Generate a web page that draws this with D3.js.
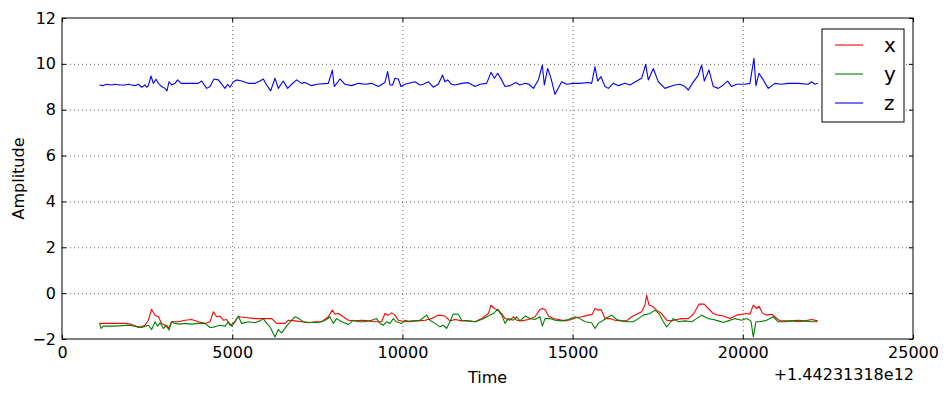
<!DOCTYPE html>
<html>
<head>
<meta charset="utf-8">
<script src="https://cdn.jsdelivr.net/npm/d3@7"></script>
<style>
  body { margin: 0; background: #fff; }
  svg text { font-family: 'DejaVu Sans', sans-serif; fill: #000; }
</style>
</head>
<body>
<svg id="chart" width="949" height="397"></svg>
<script>
// time offset (ms) relative to +1.44231318e12
const offsetLabel = '+1.44231318e12'
const xTicks = [0, 5000, 10000, 15000, 20000, 25000]
const yTicks = [-2, 0, 2, 4, 6, 8, 10, 12]
const seriesNames = ['x', 'y', 'z']
const seriesColors = ['#ff0000', '#008000', '#0000ff']

const zTime = [1100, 1200, 1300, 1460, 1557, 1700, 1851, 1949, 2047, 2145, 2243, 2341, 2439, 2490, 2537, 2615, 2683, 2762, 2830, 2928,
  3026, 3085, 3143, 3222, 3320, 3398, 3496, 3613, 3809, 4005, 4103, 4250, 4348, 4465, 4592, 4710, 4788, 4866, 4935, 5033,
  5131, 5278, 5474, 5670, 5816, 5914, 6012, 6130, 6257, 6355, 6502, 6629, 6746, 6893, 7040, 7138, 7334, 7481, 7823, 7940,
  7999, 8166, 8313, 8509, 8704, 8900, 9096, 9292, 9487, 9566, 9634, 9712, 9781, 9879, 9957, 10075, 10369, 10515, 10613, 10760,
  10907, 11054, 11181, 11250, 11328, 11445, 11546, 11742, 11938, 12133, 12280, 12476, 12603, 12701, 12799, 12917, 13014, 13161, 13328, 13455,
  13602, 13719, 13847, 13994, 14111, 14170, 14268, 14366, 14483, 14679, 14826, 15022, 15217, 15462, 15560, 15658, 15736, 15834, 15952, 16049,
  16196, 16343, 16539, 16686, 16882, 17028, 17146, 17224, 17371, 17518, 17714, 17861, 18008, 18155, 18301, 18399, 18517, 18693, 18791, 18869,
  19006, 19133, 19280, 19427, 19554, 19672, 19819, 20063, 20210, 20328, 20386, 20475, 20601, 20748, 20944, 21140, 21336, 21630, 21923, 22022,
  22120, 22200]
const zVal = [9.08, 9.05, 9.11, 9.08, 9.11, 9.08, 9.08, 9.11, 9.08, 9.05, 9.11, 8.98, 9.08, 8.98, 9.05, 9.47, 9.15, 9.33, 9.15, 9.01,
  8.93, 8.82, 9.22, 9.08, 9.15, 9.30, 9.15, 9.15, 9.15, 9.15, 9.25, 8.93, 9.01, 9.34, 9.30, 9.08, 8.93, 9.11, 8.98, 9.22,
  9.30, 9.25, 9.15, 9.15, 9.25, 9.34, 9.08, 8.82, 9.37, 8.93, 9.25, 8.93, 9.11, 9.30, 9.15, 9.19, 9.05, 9.11, 9.15, 9.73,
  9.01, 9.34, 9.11, 9.05, 9.15, 9.11, 9.15, 9.01, 9.19, 9.66, 9.08, 9.08, 9.37, 9.34, 9.01, 9.11, 9.22, 9.08, 9.11, 9.22,
  8.98, 9.11, 9.51, 9.22, 9.30, 9.11, 9.08, 9.15, 9.18, 9.01, 9.11, 9.15, 9.63, 9.37, 9.59, 9.30, 9.01, 9.05, 9.19, 9.08,
  9.15, 9.11, 8.93, 9.30, 9.95, 9.08, 9.80, 9.37, 8.67, 9.22, 9.11, 9.15, 9.15, 9.19, 9.15, 9.88, 9.25, 9.44, 9.01, 8.93,
  9.15, 9.05, 9.15, 9.08, 9.25, 9.37, 9.98, 9.30, 9.80, 9.22, 8.93, 9.01, 9.08, 9.11, 9.01, 8.86, 9.15, 9.51, 9.95, 9.25,
  9.73, 9.01, 8.93, 9.08, 9.25, 9.01, 9.11, 9.11, 9.15, 10.24, 9.05, 9.59, 9.30, 8.93, 9.15, 9.11, 9.15, 9.15, 9.11, 9.22,
  9.11, 9.15]

const xTime = [1100, 1460, 1851, 2047, 2243, 2439, 2537, 2634, 2732, 2830, 2928, 3026, 3124, 3222, 3418, 3613, 3809, 4005, 4201, 4348,
  4446, 4543, 4641, 4739, 4837, 4935, 5033, 5180, 5376, 5670, 5963, 6159, 6306, 6453, 6551, 6648, 6844, 7040, 7236, 7432,
  7627, 7823, 7940, 8019, 8117, 8264, 8411, 8606, 8802, 8998, 9194, 9390, 9487, 9585, 9683, 9781, 9879, 10075, 10271, 10467,
  10662, 10858, 11054, 11250, 11396, 11546, 11742, 11938, 12133, 12329, 12525, 12603, 12701, 12819, 12917, 13014, 13161, 13259, 13357, 13504,
  13700, 13896, 14042, 14111, 14209, 14287, 14434, 14581, 14777, 14973, 15119, 15266, 15462, 15579, 15658, 15756, 15834, 15952, 16098, 16245,
  16441, 16588, 16735, 16882, 17028, 17126, 17175, 17244, 17342, 17469, 17616, 17763, 17910, 18057, 18203, 18399, 18546, 18644, 18712, 18869,
  18986, 19133, 19280, 19427, 19623, 19819, 19965, 20112, 20210, 20308, 20406, 20475, 20572, 20699, 20847, 20964, 21091, 21238, 21434, 21630,
  21826, 22022, 22200]
const xVal = [-1.32, -1.32, -1.32, -1.37, -1.50, -1.40, -1.18, -0.70, -0.96, -1.03, -1.32, -1.40, -1.54, -1.25, -1.25, -1.18, -1.15, -1.25, -1.32, -1.25,
  -0.81, -1.03, -1.00, -1.18, -1.15, -1.40, -1.32, -1.03, -1.06, -1.11, -1.11, -1.11, -1.32, -1.32, -1.32, -1.18, -1.21, -1.25, -1.29, -1.25,
  -1.25, -1.03, -0.74, -0.92, -0.89, -1.03, -1.18, -1.21, -1.18, -1.21, -1.25, -1.25, -0.89, -0.96, -0.86, -0.96, -1.18, -1.25, -1.21, -1.21,
  -1.18, -1.11, -0.96, -1.00, -1.21, -1.15, -1.21, -1.21, -1.25, -1.11, -0.89, -0.52, -0.67, -0.74, -0.89, -1.11, -1.18, -1.03, -1.18, -1.21,
  -1.15, -1.03, -0.71, -0.67, -0.74, -1.00, -1.11, -1.15, -1.21, -1.15, -1.06, -1.03, -0.96, -0.92, -0.67, -0.74, -0.71, -1.11, -1.11, -1.18,
  -1.21, -1.21, -1.03, -0.92, -0.81, -0.52, -0.09, -0.52, -0.57, -0.74, -0.89, -1.18, -1.21, -1.15, -1.11, -1.11, -0.92, -0.67, -0.48, -0.48,
  -0.67, -0.89, -0.96, -1.00, -1.11, -0.96, -0.92, -0.89, -0.92, -0.52, -0.67, -0.57, -0.86, -0.96, -0.92, -1.06, -1.21, -1.21, -1.21, -1.18,
  -1.21, -1.15, -1.21]

const yTime = [1100, 1150, 1215, 1557, 1949, 2145, 2341, 2537, 2634, 2732, 2811, 2879, 2977, 3075, 3143, 3222, 3320, 3467, 3613, 3809,
  4005, 4201, 4348, 4494, 4641, 4788, 4886, 4984, 5082, 5180, 5278, 5474, 5670, 5816, 5914, 6012, 6110, 6257, 6355, 6453,
  6599, 6746, 6844, 6961, 7089, 7285, 7481, 7627, 7774, 7872, 7970, 8068, 8215, 8411, 8557, 8704, 8900, 9096, 9243, 9341,
  9438, 9536, 9634, 9732, 9830, 9977, 10075, 10221, 10369, 10515, 10711, 10809, 10956, 11103, 11201, 11299, 11396, 11494, 11644, 11742,
  11938, 12133, 12329, 12525, 12672, 12799, 12917, 13014, 13112, 13259, 13357, 13455, 13602, 13749, 13896, 14042, 14111, 14189, 14336, 14483,
  14679, 14875, 15070, 15217, 15364, 15560, 15658, 15756, 15903, 16049, 16147, 16294, 16441, 16588, 16784, 16931, 17077, 17273, 17420, 17537,
  17665, 17763, 17861, 17959, 18106, 18301, 18497, 18644, 18791, 18986, 19133, 19280, 19427, 19574, 19770, 19965, 20112, 20239, 20308, 20386,
  20504, 20699, 20895, 21042, 21238, 21434, 21630, 21826, 22022, 22200]
const yVal = [-1.32, -1.54, -1.44, -1.44, -1.40, -1.44, -1.50, -1.40, -1.59, -1.25, -1.44, -1.29, -1.54, -1.40, -1.61, -1.25, -1.32, -1.35, -1.32, -1.35,
  -1.32, -1.32, -1.50, -1.47, -1.40, -1.44, -1.25, -1.44, -1.25, -1.00, -1.32, -1.25, -1.29, -1.21, -1.11, -1.32, -1.47, -1.91, -1.59, -1.73,
  -1.44, -1.18, -1.03, -1.11, -1.25, -1.28, -1.28, -1.25, -1.15, -1.03, -1.32, -1.11, -1.25, -1.37, -1.18, -1.25, -1.25, -1.18, -1.11, -1.32,
  -1.40, -1.25, -1.32, -1.11, -1.25, -1.32, -1.18, -1.25, -1.21, -1.18, -0.96, -1.18, -1.32, -1.47, -1.40, -1.54, -1.25, -0.91, -0.92, -1.18,
  -1.21, -1.25, -1.15, -1.00, -0.89, -0.71, -0.96, -1.32, -1.11, -1.18, -1.03, -1.21, -1.00, -1.11, -1.15, -1.03, -1.44, -1.11, -1.11, -1.18,
  -1.21, -1.15, -1.03, -1.11, -1.25, -1.29, -1.54, -1.32, -1.18, -1.03, -0.96, -1.15, -1.21, -1.25, -1.25, -1.11, -0.96, -0.89, -0.74, -0.89,
  -1.25, -1.47, -1.29, -1.11, -1.25, -1.21, -1.25, -1.11, -0.96, -1.11, -1.15, -1.21, -1.28, -1.21, -1.11, -1.18, -1.11, -1.21, -1.91, -1.25,
  -1.25, -1.18, -1.03, -1.25, -1.25, -1.21, -1.25, -1.21, -1.25, -1.25]

const margin = { left: 62, right: 36, top: 18, bottom: 58 }
const width = 949
const height = 397

function main () {
  const svg = d3.select('#chart')
  const x = d3.scaleLinear().domain([0, 25000]).range([margin.left, width - margin.right])
  const y = d3.scaleLinear().domain([-2, 12]).range([height - margin.bottom, margin.top])
  const [x0, x1] = x.range()
  const [y0, y1] = y.range()

  // grid
  const grid = svg.append('g')
    .attr('stroke', '#000')
    .attr('stroke-width', 0.6)
    .attr('stroke-dasharray', '1,3')
  grid.selectAll('.gx').data(xTicks.slice(1, -1)).enter().append('line')
    .attr('x1', d => x(d) + 0.5).attr('x2', d => x(d) + 0.5)
    .attr('y1', y1).attr('y2', y0)
  grid.selectAll('.gy').data(yTicks.slice(1, -1)).enter().append('line')
    .attr('y1', d => y(d) + 0.5).attr('y2', d => y(d) + 0.5)
    .attr('x1', x0).attr('x2', x1)

  // series
  const series = [
    { t: xTime, v: xVal },
    { t: yTime, v: yVal },
    { t: zTime, v: zVal }
  ]
  const line = d3.line()
    .x(d => x(d[0]))
    .y(d => y(d[1]))
  series.forEach((s, i) => {
    svg.append('path')
      .datum(d3.zip(s.t, s.v))
      .attr('d', line)
      .attr('fill', 'none')
      .attr('stroke', seriesColors[i])
      .attr('stroke-width', 1.1)
      .attr('stroke-linejoin', 'round')
  })

  // axes, ticks inside on all four sides
  const xAxisB = d3.axisBottom(x).tickValues(xTicks).tickSize(-4).tickPadding(8).tickFormat(d3.format('d'))
  const xAxisT = d3.axisTop(x).tickValues(xTicks).tickSize(-4).tickFormat('')
  const yAxisL = d3.axisLeft(y).tickValues(yTicks).tickSize(-4).tickPadding(6).tickFormat(d3.format('d'))
  const yAxisR = d3.axisRight(y).tickValues(yTicks).tickSize(-4).tickFormat('')

  const styleAxis = g => {
    g.select('.domain').remove()
    g.selectAll('.tick line').attr('stroke', '#000').attr('stroke-width', 1)
    g.selectAll('.tick text').attr('font-size', 16).attr('font-family', 'DejaVu Sans').attr('fill', '#000')
  }
  svg.append('g').attr('transform', `translate(0,${y0})`).call(xAxisB).call(styleAxis)
  svg.append('g').attr('transform', `translate(0,${y1})`).call(xAxisT).call(styleAxis)
  svg.append('g').attr('transform', `translate(${x0},0)`).call(yAxisL).call(styleAxis)
  svg.append('g').attr('transform', `translate(${x1},0)`).call(yAxisR).call(styleAxis)

  svg.append('rect')
    .attr('x', x0).attr('y', y1)
    .attr('width', x1 - x0).attr('height', y0 - y1)
    .attr('fill', 'none').attr('stroke', '#000').attr('stroke-width', 1)

  // labels
  svg.append('text')
    .attr('x', (x0 + x1) / 2).attr('y', 383)
    .attr('text-anchor', 'middle').attr('font-size', 16)
    .text('Time')
  svg.append('text')
    .attr('transform', `translate(24,${(y0 + y1) / 2}) rotate(-90)`)
    .attr('text-anchor', 'middle').attr('font-size', 16)
    .text('Amplitude')
  svg.append('text')
    .attr('x', x1 + 1).attr('y', 380)
    .attr('text-anchor', 'end').attr('font-size', 16)
    .text(offsetLabel)

  buildLegend(svg)
}

function buildLegend (svg) {
  const legend = svg.append('g').attr('transform', 'translate(822,29)')
  legend.append('rect')
    .attr('width', 82).attr('height', 93)
    .attr('fill', '#fff').attr('stroke', '#000').attr('stroke-width', 1)
  seriesNames.forEach((name, i) => {
    const ly = 16 + i * 29
    legend.append('line')
      .attr('x1', 13).attr('x2', 41)
      .attr('y1', ly).attr('y2', ly)
      .attr('stroke', seriesColors[i]).attr('stroke-width', 1.1)
    legend.append('text')
      .attr('x', 62).attr('y', ly).attr('dy', '0.35em')
      .attr('font-size', 20)
      .text(name)
  })
}

main()
</script>
</body>
</html>
